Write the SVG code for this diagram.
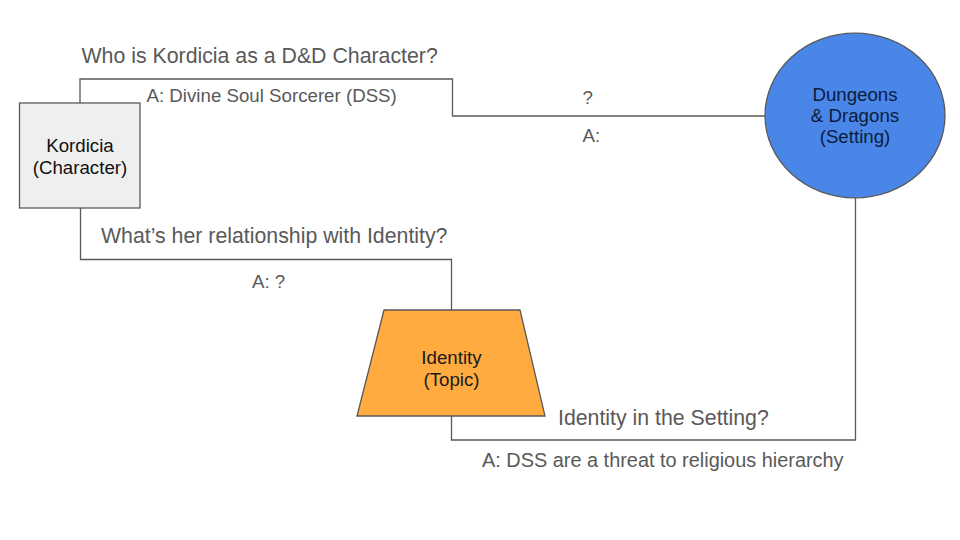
<svg xmlns="http://www.w3.org/2000/svg" width="960" height="540" viewBox="0 0 960 540">
<style>
.edge{fill:none;stroke:#595959;stroke-width:1.3}
.q{font-family:"Liberation Sans",Arial,sans-serif;font-size:21.3px;fill:#595959}
.a{font-family:"Liberation Sans",Arial,sans-serif;font-size:18.7px;fill:#595959}
.n{font-family:"Liberation Sans",Arial,sans-serif;font-size:18.7px;text-anchor:middle}
</style>
<rect width="960" height="540" fill="#ffffff"/>
<g id="connectors">
<polyline class="edge" points="80,103 80,79 452.5,79 452.5,116 765,116"/>
<polyline class="edge" points="80.5,208 80.5,259.5 451.5,259.5 451.5,310"/>
<polyline class="edge" points="451.5,416 451.5,440 855.5,440 855.5,197.5"/>
</g>
<g id="kordicia">
<rect x="19.5" y="103" width="120.5" height="105" fill="#efefef" stroke="#595959" stroke-width="1.3"/>
<text class="n" x="80" y="152" fill="#111111">Kordicia</text>
<text class="n" x="80" y="173.5" fill="#111111">(Character)</text>
</g>
<g id="dnd">
<ellipse cx="855" cy="115.5" rx="90" ry="82.3" fill="#4a86e8" stroke="#595959" stroke-width="1.3"/>
<text class="n" x="855" y="101" fill="#0c1c3c">Dungeons</text>
<text class="n" x="855" y="122" fill="#0c1c3c">&amp; Dragons</text>
<text class="n" x="855" y="143" fill="#0c1c3c">(Setting)</text>
</g>
<g id="identity">
<polygon points="384,310 520,310 545,416 357,416" fill="#ffab40" stroke="#595959" stroke-width="1.3"/>
<text class="n" x="451.5" y="364" fill="#1a1a1a">Identity</text>
<text class="n" x="451.5" y="385.5" fill="#1a1a1a">(Topic)</text>
</g>
<g id="labels">
<text class="q" x="81.5" y="63">Who is Kordicia as a D&amp;D Character?</text>
<text class="a" x="146.5" y="102">A: Divine Soul Sorcerer (DSS)</text>
<text class="a" x="582.5" y="103.5">?</text>
<text class="a" x="582.5" y="142">A:</text>
<text class="q" x="101" y="243">What’s her relationship with Identity?</text>
<text class="a" x="252" y="288">A: ?</text>
<text class="q" x="558" y="425">Identity in the Setting?</text>
<text class="a" x="482" y="467" style="font-size:19.9px">A: DSS are a threat to religious hierarchy</text>
</g>
</svg>
